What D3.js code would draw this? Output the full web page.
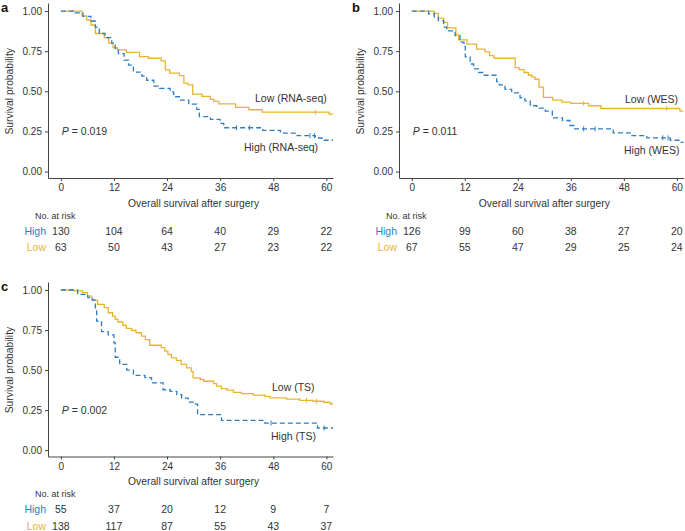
<!DOCTYPE html>
<html>
<head>
<meta charset="utf-8">
<script src="https://cdn.jsdelivr.net/npm/d3@7"></script>
<style>
body { margin: 0; background: #fff; }
text { font-family: 'Liberation Sans', Arial, sans-serif; }
</style>
</head>
<body>
<svg id="fig" width="685" height="531"></svg>
<script>
// tick values
var months = [0, 12, 24, 36, 48, 60];
var probTicks = [0, 0.25, 0.5, 0.75, 1];

// survival steps [month, probability]
var aHigh = [[0,1],[3.2,0.988],[5.0,0.967],[6.8,0.938],[7.8,0.90],[8.7,0.86],[10.0,0.834],[11.5,0.80],[12.3,0.766],[13.0,0.735],[14.3,0.694],[15.3,0.663],[16.4,0.62],[18.3,0.594],[19.4,0.569],[21.0,0.532],[22.3,0.518],[24.7,0.497],[25.5,0.466],[27.0,0.445],[28.9,0.42],[30.7,0.387],[31.3,0.342],[33.8,0.325],[36.0,0.30],[36.8,0.273],[45.6,0.257],[49.6,0.24],[53.4,0.224],[57.5,0.209],[59.0,0.195],[61.5,0.195]];
var aLow = [[0,1],[4.8,0.97],[5.8,0.944],[6.8,0.913],[7.8,0.86],[9.8,0.834],[10.8,0.80],[11.8,0.772],[12.8,0.758],[14.8,0.743],[17.8,0.716],[19.8,0.706],[22.7,0.69],[23.6,0.634],[24.6,0.613],[26.8,0.598],[27.8,0.551],[28.7,0.54],[29.8,0.482],[31.9,0.468],[33.8,0.45],[34.6,0.437],[35.7,0.422],[39.5,0.40],[42.5,0.385],[45.5,0.37],[60.6,0.358],[61.5,0.358]];
var bHigh = [[0,1],[3.8,0.983],[5.1,0.962],[6.0,0.94],[7.2,0.90],[7.9,0.877],[9.8,0.847],[10.9,0.806],[11.8,0.78],[12.1,0.714],[13.2,0.67],[14.0,0.64],[15.1,0.617],[16.2,0.60],[19.2,0.56],[19.8,0.54],[21.1,0.512],[22.6,0.49],[24.5,0.46],[25.6,0.44],[26.8,0.41],[28.3,0.395],[30.2,0.377],[31.8,0.335],[34.1,0.318],[35.8,0.287],[36.7,0.266],[45.6,0.241],[49.4,0.224],[53.2,0.21],[58.5,0.195],[60.7,0.182],[62.5,0.182]];
var bLow = [[0,1],[5.1,0.986],[6.0,0.956],[7.2,0.929],[8.1,0.895],[10.0,0.851],[10.6,0.82],[12.5,0.794],[14.7,0.763],[16.6,0.745],[17.6,0.722],[18.6,0.706],[23.4,0.648],[24.3,0.635],[25.4,0.617],[26.4,0.60],[27.2,0.588],[27.9,0.575],[28.8,0.526],[29.8,0.462],[31.9,0.445],[34.0,0.433],[36.0,0.425],[40.0,0.41],[42.8,0.393],[60.7,0.376],[62.5,0.376]];
var cHigh = [[0,1],[3.8,0.973],[6.1,0.952],[7.2,0.937],[7.8,0.889],[8.1,0.805],[9.2,0.74],[10.7,0.72],[12.0,0.67],[12.3,0.58],[13.3,0.535],[14.9,0.50],[16.4,0.467],[19.0,0.453],[20.5,0.42],[23.1,0.377],[24.7,0.367],[26.2,0.346],[27.3,0.325],[28.8,0.30],[29.9,0.287],[30.9,0.221],[36.3,0.186],[46.1,0.169],[58.0,0.138],[61.5,0.138]];
var cLow = [[0,1],[3.0,0.994],[4.9,0.984],[6.0,0.962],[7.0,0.935],[8.3,0.91],[9.8,0.89],[10.7,0.858],[11.7,0.837],[12.3,0.816],[12.9,0.80],[14.0,0.78],[14.8,0.76],[16.0,0.747],[17.0,0.733],[18.2,0.712],[19.1,0.69],[20.1,0.655],[22.7,0.64],[23.5,0.618],[24.2,0.597],[25.0,0.576],[26.1,0.56],[27.2,0.535],[28.4,0.514],[29.5,0.49],[29.9,0.451],[31.5,0.441],[32.3,0.43],[34.5,0.415],[35.2,0.399],[36.3,0.384],[37.5,0.374],[39.0,0.361],[40.8,0.353],[43.5,0.344],[46.1,0.336],[47.3,0.326],[51.0,0.319],[54.0,0.311],[57.0,0.305],[59.4,0.299],[60.9,0.288],[61.5,0.288]];

// censored times
var aHighCens = [39.7, 42.6, 56.3, 57.3];
var aLowCens = [57.5];
var bHighCens = [38.9, 41.5, 56.8, 58.0];
var bLowCens = [38.9, 57.7];
var cHighCens = [47.5, 59.5];
var cLowCens = [55.5, 57.8];

// numbers at risk
var aHighRisk = [130, 104, 64, 40, 29, 22];
var aLowRisk = [63, 50, 43, 27, 23, 22];
var bHighRisk = [126, 99, 60, 38, 27, 20];
var bLowRisk = [67, 55, 47, 29, 25, 24];
var cHighRisk = [55, 37, 20, 12, 9, 7];
var cLowRisk = [138, 117, 87, 55, 43, 37];

var pValues = ['0.019', '0.011', '0.002'];
var groupNames = ['RNA-seq', 'WES', 'TS'];

var blue = '#2E7EC1';
var gold = '#E7B530';
var ink = '#333';

var panels = [
	{ tag: 'a', left: 48, right: 333, top: 3, bottom: 178, high: aHigh, low: aLow, highCens: aHighCens, lowCens: aLowCens, highRisk: aHighRisk, lowRisk: aLowRisk, p: pValues[0], name: groupNames[0], lowLab: [255, 101.5], highLab: [244, 150.5] },
	{ tag: 'b', left: 399, right: 683.5, top: 3, bottom: 178, high: bHigh, low: bLow, highCens: bHighCens, lowCens: bLowCens, highRisk: bHighRisk, lowRisk: bLowRisk, p: pValues[1], name: groupNames[1], lowLab: [625, 103], highLab: [624, 153.5] },
	{ tag: 'c', left: 48, right: 333, top: 282, bottom: 456.5, high: cHigh, low: cLow, highCens: cHighCens, lowCens: cLowCens, highRisk: cHighRisk, lowRisk: cLowRisk, p: pValues[2], name: groupNames[2], lowLab: [272, 390.5], highLab: [271, 439.5] }
];

var svg = d3.select('#fig');

function valueAt(steps, t) {
	var v = steps[0][1];
	steps.forEach(function(d) { if (d[0] <= t) v = d[1]; });
	return v;
}

panels.forEach(function(p, i) {
	var x = d3.scaleLinear().domain([-2.9, 61.5]).range([p.left, p.right]);
	var y = d3.scaleLinear().domain([-0.04, 1.05]).range([p.bottom, p.top]);
	var g = svg.append('g');

	// clip
	var clipId = 'clip-' + p.tag;
	g.append('defs').append('clipPath').attr('id', clipId)
		.append('rect')
		.attr('x', p.left).attr('y', p.top - 2)
		.attr('width', p.right - p.left).attr('height', p.bottom - p.top + 2);

	// axes
	var ya = g.append('g')
		.attr('transform', 'translate(' + p.left + ',0)')
		.call(d3.axisLeft(y).tickValues(probTicks).tickFormat(d3.format('.2f')).tickSize(3).tickSizeOuter(0).tickPadding(3));
	var xa = g.append('g')
		.attr('transform', 'translate(0,' + p.bottom + ')')
		.call(d3.axisBottom(x).tickValues(months).tickSize(3).tickSizeOuter(0).tickPadding(3));
	[ya, xa].forEach(function(a) {
		a.select('.domain').attr('stroke', '#444').attr('stroke-width', 1);
		a.selectAll('.tick line').attr('stroke', '#444');
		a.selectAll('.tick text').attr('fill', ink).style('font-size', '10px').style('font-family', "'Liberation Sans', Arial, sans-serif");
	});

	// curves
	var line = d3.line()
		.x(function(d) { return x(d[0]); })
		.y(function(d) { return y(d[1]); })
		.curve(d3.curveStepAfter);

	var curves = g.append('g').attr('clip-path', 'url(#' + clipId + ')');
	curves.append('path')
		.datum(p.low)
		.attr('d', line)
		.attr('fill', 'none')
		.attr('stroke', gold)
		.attr('stroke-width', 1.3);
	curves.append('path')
		.datum(p.high)
		.attr('d', line)
		.attr('fill', 'none')
		.attr('stroke', blue)
		.attr('stroke-width', 1.3)
		.attr('stroke-dasharray', '5,3');

	// censor marks
	[[p.lowCens, p.low, gold], [p.highCens, p.high, blue]].forEach(function(c) {
		curves.selectAll(null)
			.data(c[0])
			.enter()
			.append('line')
			.attr('x1', function(t) { return x(t); })
			.attr('x2', function(t) { return x(t); })
			.attr('y1', function(t) { return y(valueAt(c[1], t)) - 2.5; })
			.attr('y2', function(t) { return y(valueAt(c[1], t)) + 2.5; })
			.attr('stroke', c[2])
			.attr('stroke-width', 1);
	});

	// curve labels
	g.append('text')
		.attr('x', p.lowLab[0]).attr('y', p.lowLab[1])
		.attr('fill', ink).style('font-size', '10.5px')
		.text('Low (' + p.name + ')');
	g.append('text')
		.attr('x', p.highLab[0]).attr('y', p.highLab[1])
		.attr('fill', ink).style('font-size', '10.5px')
		.text('High (' + p.name + ')');

	// p value
	var pt = g.append('text')
		.attr('x', x(0) + 1).attr('y', y(0.25) + 3.5)
		.attr('fill', ink).style('font-size', '10.5px');
	pt.append('tspan').style('font-style', 'italic').text('P');
	pt.append('tspan').text(' = ' + p.p);

	// panel tag
	g.append('text')
		.attr('x', i === 1 ? 352 : 1).attr('y', p.top + 8.5)
		.style('font-size', '13px').style('font-weight', 'bold')
		.attr('fill', '#111')
		.text(p.tag);

	// axis titles
	g.append('text')
		.attr('transform', 'translate(' + (p.left - 35) + ',' + y(0.5) + ') rotate(-90)')
		.attr('text-anchor', 'middle')
		.attr('fill', ink).style('font-size', '10.3px')
		.text('Survival probability');
	g.append('text')
		.attr('x', x(30)).attr('y', p.bottom + 28.5)
		.attr('text-anchor', 'middle')
		.attr('fill', ink).style('font-size', '10.3px')
		.text('Overall survival after surgery');

	// risk table
	g.append('text')
		.attr('x', p.left - 13).attr('y', p.bottom + 40.5)
		.attr('fill', ink).style('font-size', '9px')
		.text('No. at risk');
	[[p.highRisk, 'High', blue, 56.5], [p.lowRisk, 'Low', gold, 73]].forEach(function(r) {
		g.append('text')
			.attr('x', p.left - 2).attr('y', p.bottom + r[3])
			.attr('text-anchor', 'end')
			.attr('fill', r[2]).style('font-size', '10.5px')
			.text(r[1]);
		g.selectAll(null)
			.data(r[0])
			.enter()
			.append('text')
			.attr('x', function(d, k) { return x(months[k]); })
			.attr('y', p.bottom + r[3])
			.attr('text-anchor', 'middle')
			.attr('fill', ink).style('font-size', '10.5px')
			.text(function(d) { return d; });
	});
});
</script>
</body>
</html>
